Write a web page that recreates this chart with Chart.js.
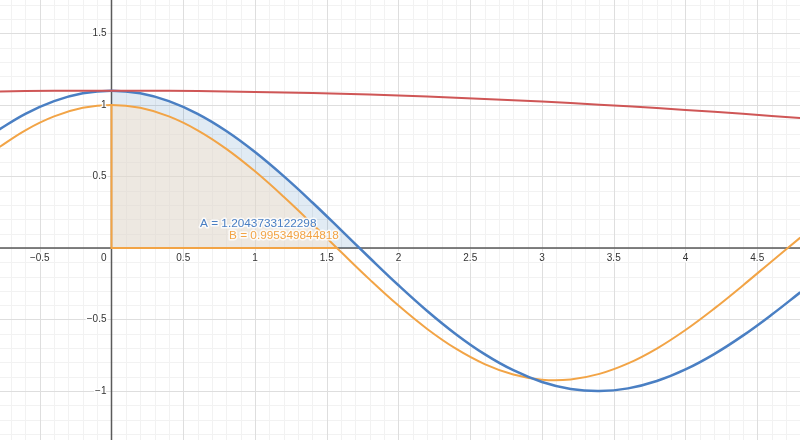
<!DOCTYPE html>
<html lang="en">
<head>
<meta charset="UTF-8" />
<title>Area under curves</title>
<script src="https://cdn.jsdelivr.net/npm/chart.js"></script>
<style>
  body { margin: 0; background: #fff; }
  canvas { display: block; }
</style>
</head>
<body>
<canvas id="chart" width="800" height="440"></canvas>
<script>
  // view window (graph units)
  const X_MIN = -0.777, X_MAX = 4.798;
  const Y_MIN = -1.343, Y_MAX = 1.734;

  // curves
  const XS = [-0.8, -0.6, -0.4, -0.2, 0, 0.2, 0.4, 0.6, 0.8, 1.0, 1.2, 1.4, 1.6, 1.8, 2.0,
              2.2, 2.4, 2.6, 2.8, 3.0, 3.2, 3.4, 3.6, 3.8, 4.0, 4.2, 4.4, 4.6, 4.8];
  const BLUE = [0.8176, 0.9377, 1.0268, 1.0816, 1.1, 1.0816, 1.0268, 0.9377, 0.8176, 0.6707,
                0.5021, 0.3181, 0.125, -0.0702, -0.261, -0.4406, -0.6029, -0.7426, -0.8551,
                -0.937, -0.9859, -1.0008, -0.982, -0.9307, -0.8495, -0.7422, -0.613, -0.4671, -0.3102];
  const ORANGE = [0.6932, 0.823, 0.9199, 0.9798, 1, 0.9798, 0.9199, 0.823, 0.6932, 0.5361,
                  0.3583, 0.1674, -0.0286, -0.2215, -0.4032, -0.5664, -0.7045, -0.812, -0.8851,
                  -0.9212, -0.9195, -0.8808, -0.8075, -0.7034, -0.5736, -0.4242, -0.262, -0.0941, 0.0722];
  const RED_X = [-0.8, -0.4, 0, 0.4, 0.8, 1.2, 1.6, 2.0, 2.4, 2.8, 3.2, 3.6, 4.0, 4.4, 4.8];
  const RED = [1.0945, 1.0986, 1.1, 1.0986, 1.0945, 1.0876, 1.0781, 1.0658, 1.0509, 1.0333,
               1.0132, 0.9905, 0.9653, 0.9378, 0.9079];

  // shaded areas, from x = 0 to the first root
  const BLUE_AREA_X = [0, 0.2, 0.4, 0.6, 0.8, 1.0, 1.2, 1.4, 1.6, 1.728];
  const BLUE_AREA_Y = [1.1, 1.0816, 1.0268, 0.9377, 0.8176, 0.6707, 0.5021, 0.3181, 0.125, 0];
  const ORANGE_AREA_X = [0, 0.2, 0.4, 0.6, 0.8, 1.0, 1.2, 1.4, 1.571];
  const ORANGE_AREA_Y = [1, 0.9798, 0.9199, 0.823, 0.6932, 0.5361, 0.3583, 0.1674, 0];

  const X_TICKS = [-0.5, 0.5, 1, 1.5, 2, 2.5, 3, 3.5, 4, 4.5];
  const Y_TICKS = [1.5, 1, 0.5, -0.5, -1];

  const LABEL_A = 'A = 1.2043733122298';
  const LABEL_B = 'B = 0.995349844818';

  const BLUE_C = '#4a7fc3';
  const ORANGE_C = '#f2a446';
  const RED_C = '#cf5656';
  const FONT = '"Liberation Sans", Arial, sans-serif';

  const pts = (xs, ys) => xs.map((x, i) => ({ x, y: ys[i] }));
  const fmt = v => (v < 0 ? '\u2212' : '') + Math.abs(v);

  const gridPlugin = {
    id: 'grid',
    beforeDatasetsDraw(chart) {
      const { ctx, chartArea: a, scales: { x, y } } = chart;
      ctx.save();
      ctx.lineWidth = 1;
      // minor then major lines
      [[1, '#f2f2f2'], [5, '#dedede']].forEach(([every, color]) => {
        ctx.strokeStyle = color;
        ctx.beginPath();
        for (let k = Math.ceil(X_MIN * 10); k <= Math.floor(X_MAX * 10); k++) {
          if (k % every) continue;
          const px = Math.round(x.getPixelForValue(k / 10)) + 0.5;
          ctx.moveTo(px, a.top); ctx.lineTo(px, a.bottom);
        }
        for (let k = Math.ceil(Y_MIN * 10); k <= Math.floor(Y_MAX * 10); k++) {
          if (k % every) continue;
          const py = Math.round(y.getPixelForValue(k / 10)) + 0.5;
          ctx.moveTo(a.left, py); ctx.lineTo(a.right, py);
        }
        ctx.stroke();
      });
      // axes
      ctx.strokeStyle = '#5a5a5a';
      ctx.lineWidth = 1.5;
      const x0 = x.getPixelForValue(0), y0 = y.getPixelForValue(0);
      ctx.beginPath();
      ctx.moveTo(x0, a.top); ctx.lineTo(x0, a.bottom);
      ctx.moveTo(a.left, y0); ctx.lineTo(a.right, y0);
      ctx.stroke();
      ctx.restore();
    },
    afterDatasetsDraw(chart) {
      const { ctx, scales: { x, y } } = chart;
      const x0 = x.getPixelForValue(0), y0 = y.getPixelForValue(0);
      const halo = (text, px, py, color) => {
        ctx.strokeStyle = 'rgba(255,255,255,0.85)';
        ctx.lineWidth = 3;
        ctx.lineJoin = 'round';
        ctx.strokeText(text, px, py);
        ctx.fillStyle = color;
        ctx.fillText(text, px, py);
      };
      ctx.save();
      ctx.font = '10px ' + FONT;
      ctx.textBaseline = 'middle';
      ctx.textAlign = 'center';
      X_TICKS.forEach(v => halo(fmt(v), x.getPixelForValue(v), y0 + 10, '#333'));
      ctx.textAlign = 'right';
      halo('0', x0 - 5, y0 + 10, '#333');
      Y_TICKS.forEach(v => halo(fmt(v), x0 - 5, y.getPixelForValue(v), '#333'));

      ctx.font = '11.8px ' + FONT;
      ctx.textAlign = 'left';
      halo(LABEL_A, x.getPixelForValue(0.617), y.getPixelForValue(0.168), BLUE_C);
      halo(LABEL_B, x.getPixelForValue(0.819), y.getPixelForValue(0.084), ORANGE_C);
      ctx.restore();
    }
  };

  const lastOrange = ORANGE_AREA_X.length - 1;

  new Chart(document.getElementById('chart'), {
    type: 'line',
    data: {
      datasets: [
        { label: 'red', data: pts(RED_X, RED), borderColor: RED_C, borderWidth: 2, tension: 0.4, order: 1 },
        { label: 'blue', data: pts(XS, BLUE), borderColor: BLUE_C, borderWidth: 2.5, tension: 0.4, order: 2 },
        { label: 'orange', data: pts(XS, ORANGE), borderColor: ORANGE_C, borderWidth: 2, tension: 0.4, order: 3 },
        {
          label: 'orange edge',
          data: [
            { x: ORANGE_AREA_X[lastOrange], y: 0 },
            { x: ORANGE_AREA_X[0], y: 0 },
            { x: ORANGE_AREA_X[0], y: ORANGE_AREA_Y[0] }
          ],
          borderColor: ORANGE_C, borderWidth: 2, tension: 0, order: 4
        },
        {
          label: 'B', data: pts(ORANGE_AREA_X, ORANGE_AREA_Y), tension: 0.4,
          borderWidth: 0, fill: 'origin', backgroundColor: 'rgba(250,229,208,0.5)', order: 5
        },
        {
          label: 'A', data: pts(BLUE_AREA_X, BLUE_AREA_Y), tension: 0.4,
          borderWidth: 0, fill: 'origin', backgroundColor: 'rgba(45,112,179,0.14)', order: 6
        }
      ]
    },
    options: {
      responsive: false,
      animation: false,
      devicePixelRatio: 1,
      layout: { padding: 0 },
      elements: { point: { radius: 0, hoverRadius: 0 } },
      plugins: { legend: { display: false }, tooltip: { enabled: false } },
      scales: {
        x: { type: 'linear', min: X_MIN, max: X_MAX, display: false },
        y: { type: 'linear', min: Y_MIN, max: Y_MAX, display: false }
      }
    },
    plugins: [gridPlugin]
  });
</script>
</body>
</html>
